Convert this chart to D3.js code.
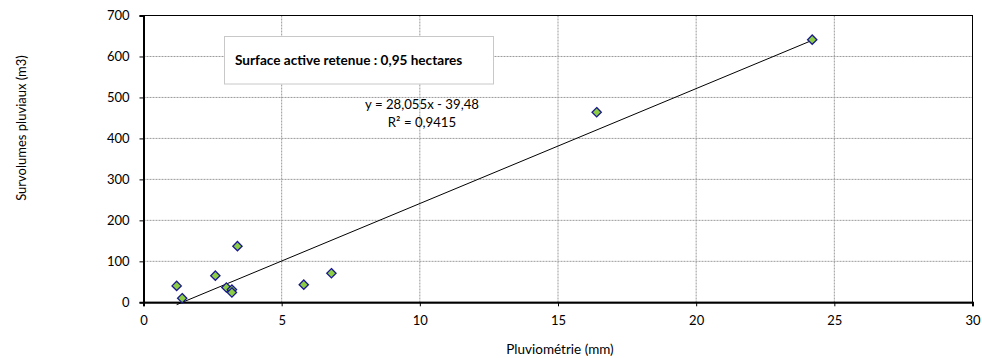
<!DOCTYPE html>
<html><head><meta charset="utf-8">
<script src="https://cdn.jsdelivr.net/npm/d3@7"></script>
<style>
body{margin:0;background:#fff;}
text{font-family:Lato,"Open Sans",sans-serif;fill:#000;}
</style></head>
<body><svg id="c" width="982" height="358"></svg>
<script>
const pluvio = [1.2, 1.4, 2.6, 3.4, 3.0, 3.2, 3.2, 5.8, 6.8, 16.4, 24.2];
const survol = [40, 10, 65, 137, 36, 31, 24, 43, 71, 464, 641];
const xTicks = [0, 5, 10, 15, 20, 25, 30];
const yTicks = [0, 100, 200, 300, 400, 500, 600, 700];
const slope = 28.055, intercept = -39.48;
const eqLabel = "y = 28,055x - 39,48";
const r2Label = "R² = 0,9415";
const boxLabel = "Surface active retenue : 0,95 hectares";
const xTitle = "Pluviométrie (mm)";
const yTitle = "Survolumes pluviaux (m3)";

const svg = d3.select("#c");
const L = 143.5, R = 972.5, T = 15.5, B = 302.3;
const x = d3.scaleLinear().domain([0, 30]).range([L, R]);
const y = d3.scaleLinear().domain([0, 700]).range([B, T]);

const g = svg.append("g");
g.selectAll(".gx").data(xTicks.slice(1, -1)).join("line")
  .attr("x1", d => x(d)).attr("x2", d => x(d)).attr("y1", T).attr("y2", B)
  .attr("stroke", "#9a9a9a").attr("stroke-width", 1).attr("stroke-dasharray", "2,1");
g.selectAll(".gy").data(yTicks.slice(1, -1)).join("line")
  .attr("y1", d => y(d)).attr("y2", d => y(d)).attr("x1", L).attr("x2", R)
  .attr("stroke", "#9a9a9a").attr("stroke-width", 1).attr("stroke-dasharray", "2,1");

svg.append("rect").attr("x", L).attr("y", T).attr("width", R - L).attr("height", B - T)
  .attr("fill", "none").attr("stroke", "#000").attr("stroke-width", 1);

const xa = svg.append("g").attr("transform", `translate(0,${B})`)
  .call(d3.axisBottom(x).tickValues(xTicks).tickSize(4).tickPadding(9).tickFormat(d3.format("d")));
const ya = svg.append("g").attr("transform", `translate(${L},0)`)
  .call(d3.axisLeft(y).tickValues(yTicks).tickSize(4).tickPadding(10).tickFormat(d3.format("d")));
[xa, ya].forEach(a => {
  a.select(".domain").attr("stroke", "#000").attr("stroke-width", 2);
  a.selectAll(".tick line").attr("stroke", "#000");
  a.selectAll(".tick text").style("font-family", "Lato,sans-serif").style("font-size", "13px").attr("fill", "#000");
});

const xmin = d3.min(pluvio), xmax = d3.max(pluvio);
svg.append("line")
  .attr("x1", x(xmin)).attr("y1", y(slope * xmin + intercept))
  .attr("x2", x(xmax)).attr("y2", y(slope * xmax + intercept))
  .attr("stroke", "#000").attr("stroke-width", 1);

const pts = pluvio.map((p, i) => [p, survol[i]]);
svg.selectAll(".pt").data(pts).join("path")
  .attr("d", d3.symbol().type(d3.symbolDiamond2).size(55))
  .attr("transform", d => `translate(${x(d[0])},${y(d[1])})`)
  .attr("fill", "#8ccd45").attr("stroke", "#1a1a8c").attr("stroke-width", 1.3);

svg.append("rect").attr("x", 224.5).attr("y", 36.5).attr("width", 269).attr("height", 47.5)
  .attr("fill", "#fff").attr("stroke", "#c8c8c8").attr("stroke-width", 1);
svg.append("text").attr("x", 235).attr("y", 65).style("font-size", "13.6px").style("font-weight", "bold").text(boxLabel);

svg.append("text").attr("x", 422).attr("y", 109).attr("text-anchor", "middle").style("font-size", "13.2px").text(eqLabel);
svg.append("text").attr("x", 422).attr("y", 127).attr("text-anchor", "middle").style("font-size", "13.2px").text(r2Label);

svg.append("text").attr("x", 560).attr("y", 354).attr("text-anchor", "middle").style("font-size", "13.5px").text(xTitle);
svg.append("text").attr("transform", "translate(26,128) rotate(-90)").attr("text-anchor", "middle").style("font-size", "13px").text(yTitle);
</script></body></html>
